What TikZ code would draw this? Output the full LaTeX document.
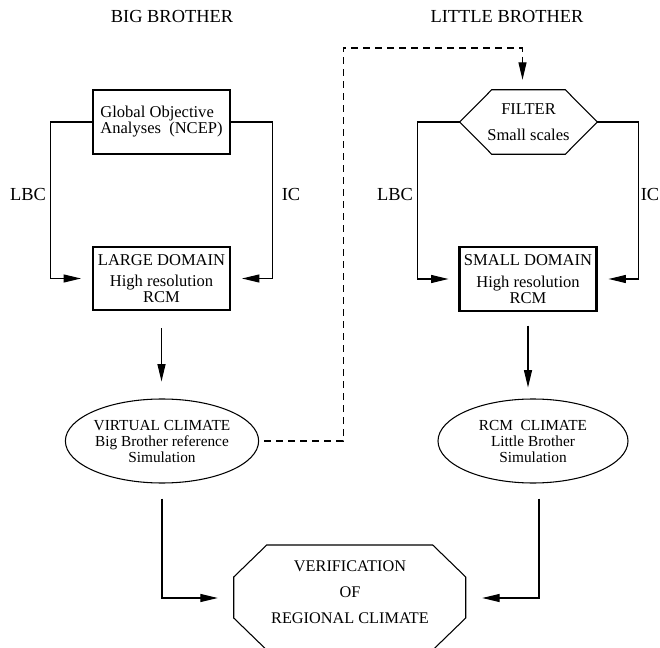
\documentclass[tikz,border=0pt]{standalone}
\usepackage{fontspec}
\setmainfont{Liberation Serif}
\usetikzlibrary{arrows.meta,shapes.geometric}
\tikzset{
	box/.style={draw,line width=1.6pt,minimum width=102.75pt,minimum height=47.5pt,inner sep=0pt,align=center},
	oval/.style={draw,ellipse,line width=0.8pt,minimum width=142.5pt,minimum height=63pt,inner sep=0pt,align=center,font=\fontsize{11.5}{12}\selectfont},
	lbl/.style={font=\fontsize{13.8}{16}\selectfont},
	arr/.style={-{Triangle[length=13pt,width=6pt]},line width=0.8pt},
}
\begin{document}
\begin{tikzpicture}[x=0.75pt,y=-0.75pt,font=\fontsize{12.4}{12}\selectfont]
			\useasboundingbox (0,0) rectangle (660,648);
			
			\node[lbl] (BB) at (172,17) {BIG BROTHER};
			\node[lbl] (LB) at (507,17) {LITTLE BROTHER};
			
			\node[box,align=left] (GOA) at (161.5,122) {Global Objective\\Analyses\ \ (NCEP)};
			\node[box] (LD) at (161.5,278.5) {LARGE DOMAIN\\[4pt]High resolution\\RCM};
			\node[minimum width=102.75pt,minimum height=48pt,inner sep=0pt,align=center] (FIL) at (528.5,122) {FILTER\\[7.5pt]Small scales};
			\node[box] (SD) at (528,279) {SMALL DOMAIN\\[4pt]High resolution\\RCM};
			\node[oval] (VC) at (162,441) {VIRTUAL CLIMATE\\Big Brother reference\\Simulation};
			\node[oval] (RC) at (533,441) {RCM\ \ CLIMATE\\Little Brother\\Simulation};
			\node[minimum width=174pt,inner sep=0pt,align=center,font=\fontsize{12.2}{19.5}\selectfont] (VER) at (350,592) {VERIFICATION\\OF\\REGIONAL CLIMATE};
			
			\node[lbl] (LBC1) at (28,195) {LBC};
			\node[lbl] (IC1) at (291,195) {IC};
			\node[lbl] (LBC2) at (395,195) {LBC};
			\node[lbl] (IC2) at (650,195) {IC};
			
			% filter hexagon and verification octagon
			\draw[line width=0.8pt] (FIL.west) -- ([xshift=24pt]FIL.north west) -- ([xshift=-24pt]FIL.north east) -- (FIL.east) -- ([xshift=-24pt]FIL.south east) -- ([xshift=24pt]FIL.south west) -- cycle;
			\draw[line width=0.8pt] ([shift={(0,-15)}]VER.west) -- ([shift={(33,-47)}]VER.west) -- ([shift={(199,-47)}]VER.west) -- ([shift={(232,-15)}]VER.west) -- ([shift={(232,26)}]VER.west) -- ([shift={(199,58)}]VER.west) -- ([shift={(33,58)}]VER.west) -- ([shift={(0,26)}]VER.west) -- cycle;
			
			\draw[arr,shorten >=8.25pt] (GOA.west) -- ++(-41,0) |- (LD.west);
			\draw[arr,shorten >=8.25pt] (GOA.east) -- ++(41,0) |- (LD.east);
			\draw[arr,shorten >=7.5pt] (FIL.west) -- ++(-42,0) |- (SD.west);
			\draw[arr,shorten >=8.25pt] (FIL.east) -- ++(41,0) |- (SD.east);
			
			\draw[arr,shorten <=12.75pt,shorten >=12.75pt] (LD.south) -- (LD.south |- VC.north);
			\draw[arr,shorten <=10.5pt,shorten >=8.25pt] (SD.south) -- (SD.south |- RC.north);
			
			\draw[arr,dash pattern=on 5.5pt off 3.5pt,shorten <=3.75pt,shorten >=7.5pt] (VC.east) -- ++(84,0) -- ++(0,-393) -| ([xshift=-4.5pt]FIL.north);
			
			\draw[arr,shorten <=11.25pt,shorten >=12pt] (VC.south) |- ([yshift=-4.5pt]VER.west);
			\draw[arr,shorten <=11.25pt,shorten >=12pt] ([xshift=4.5pt]RC.south) |- ([yshift=-4.5pt]VER.east);
\end{tikzpicture}
\end{document}
